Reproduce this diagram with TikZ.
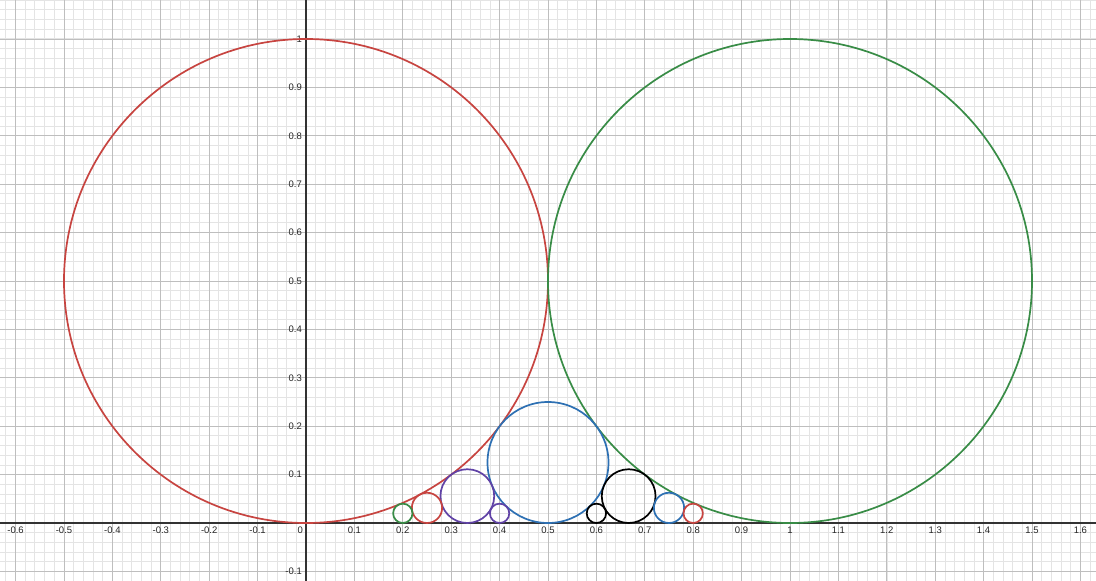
\documentclass[tikz,border=0pt]{standalone}
\usepackage{fontspec}
\setmainfont{Liberation Sans}
\usepackage{tikz}
\usepackage{color}

\definecolor{dred}{HTML}{C74440}
\definecolor{dgreen}{HTML}{388C46}
\definecolor{dblue}{HTML}{2D70B3}
\definecolor{dpurple}{HTML}{6042A6}
\definecolor{minorgray}{HTML}{E4E4E4}
\definecolor{majorgray}{HTML}{BEBEBE}

\tikzset{
  minorline/.style={minorgray, line width=0.8pt},
  majorline/.style={majorgray, line width=0.9pt},
  axisline/.style={black!80, line width=1.3pt},
  ford/.style={line width=1.7pt},
  ticklabel/.style={inner sep=0pt, font=\fontsize{9.5}{11}\selectfont, text=black!85}
}

\begin{document}
\begin{tikzpicture}[x=484pt,y=484pt]
\useasboundingbox (-0.63223,-0.11983) rectangle (1.63223,1.08058);
\fill[white] (-0.63223,-0.11983) rectangle (1.63223,1.08058);
\begin{scope}
\clip (-0.63223,-0.11983) rectangle (1.63223,1.08058);
% grid
\foreach \i in {-32,...,82}
  \draw[minorline] (\i*0.02,-0.2) -- (\i*0.02,1.2);
\foreach \j in {-6,...,55}
  \draw[minorline] (-0.7,\j*0.02) -- (1.7,\j*0.02);
\foreach \i in {-7,...,17}
  \draw[majorline] (\i/10,-0.2) -- (\i/10,1.2);
\foreach \j in {-2,...,11}
  \draw[majorline] (-0.7,\j/10) -- (1.7,\j/10);
% axes
\draw[axisline] (-0.7,0) -- (1.7,0);
\draw[axisline] (0,-0.2) -- (0,1.2);
\end{scope}

% tick labels
\foreach \x/\t in {-0.6/-0.6,-0.5/-0.5,-0.4/-0.4,-0.3/-0.3,-0.2/-0.2,-0.1/-0.1,
    0.1/0.1,0.2/0.2,0.3/0.3,0.4/0.4,0.5/0.5,0.6/0.6,0.7/0.7,0.8/0.8,0.9/0.9,
    1/1,1.1/1.1,1.2/1.2,1.3/1.3,1.4/1.4,1.5/1.5,1.6/1.6}
  \node[ticklabel, anchor=north, yshift=-4pt] (xl\t) at (\x,0) {\t};
\foreach \y/\t in {-0.1/-0.1,0.1/0.1,0.2/0.2,0.3/0.3,0.4/0.4,0.5/0.5,
    0.6/0.6,0.7/0.7,0.8/0.8,0.9/0.9,1/1}
  \node[ticklabel, anchor=east, xshift=-4pt] (yl\t) at (0,\y) {\t};
\node[ticklabel, anchor=north east, xshift=-3pt, yshift=-4pt] (origin) at (0,0) {0};

% Ford circles
\draw[ford, dred] (0,0.5) circle (0.5);
\draw[ford, dgreen] (1,0.5) circle (0.5);
\draw[ford, dblue] (1/2,1/8) circle (1/8);
\draw[ford, dpurple] (1/3,1/18) circle (1/18);
\draw[ford, black] (2/3,1/18) circle (1/18);
\draw[ford, dred] (1/4,1/32) circle (1/32);
\draw[ford, dblue] (3/4,1/32) circle (1/32);
\draw[ford, dgreen] (1/5,1/50) circle (1/50);
\draw[ford, dpurple] (2/5,1/50) circle (1/50);
\draw[ford, black] (3/5,1/50) circle (1/50);
\draw[ford, dred] (4/5,1/50) circle (1/50);
\end{tikzpicture}
\end{document}
